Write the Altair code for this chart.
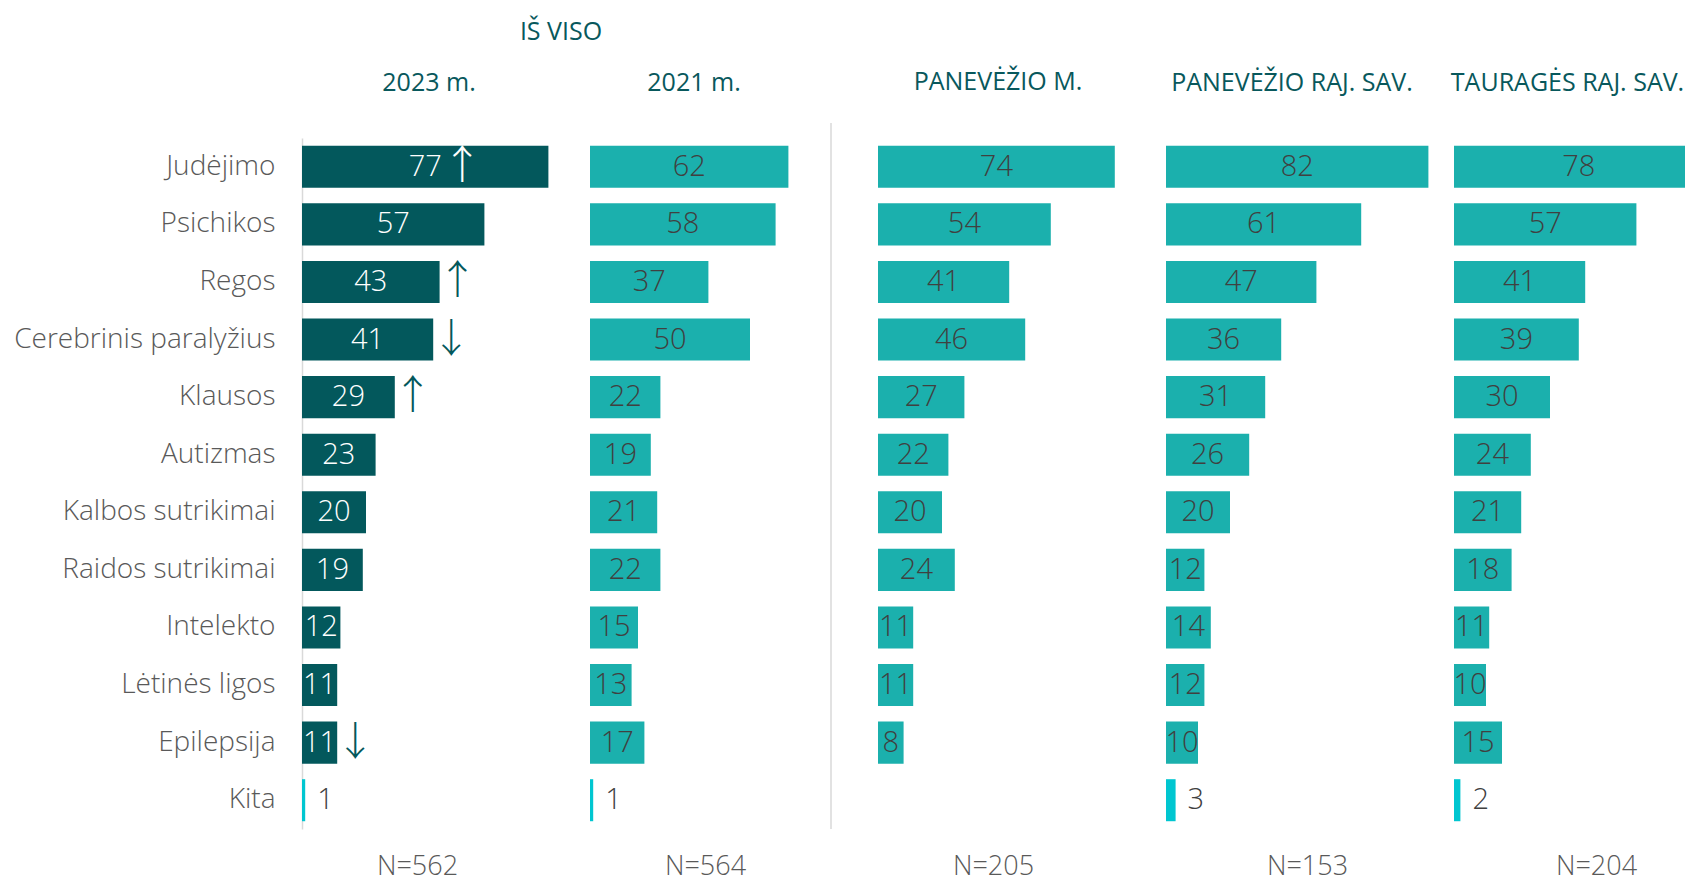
import altair as alt
import pandas as pd

categories = ["Judėjimo", "Psichikos", "Regos", "Cerebrinis paralyžius", "Klausos",
              "Autizmas", "Kalbos sutrikimai", "Raidos sutrikimai", "Intelekto",
              "Lėtinės ligos", "Epilepsija", "Kita"]
v2023 = [77, 57, 43, 41, 29, 23, 20, 19, 12, 11, 11, 1]
v2021 = [62, 58, 37, 50, 22, 19, 21, 22, 15, 13, 17, 1]
panevezio_m = [74, 54, 41, 46, 27, 22, 20, 24, 11, 11, 8, None]
panevezio_raj = [82, 61, 47, 36, 31, 26, 20, 12, 14, 12, 10, 3]
taurages = [78, 57, 41, 39, 30, 24, 21, 18, 11, 10, 15, 2]
arrows_2023 = ["↑", "", "↑", "↓", "↑", "", "", "", "", "", "↓", ""]
panel_titles = ["2023 m.", "2021 m.", "PANEVĖŽIO M.", "PANEVĖŽIO RAJ. SAV.", "TAURAGĖS RAJ. SAV."]
n_values = [562, 564, 205, 153, 204]
group_title = "IŠ VISO"

DARK = "#03585c"
TEAL = "#1bb0ad"
KITA = "#00c6d0"
HEAD = "#08585c"
GRAY = "#404040"
LGRAY = "#595959"
FONT = "Open Sans"

PX_PER_UNIT = 3.2
H = 691
Y_SCALE = alt.Scale(domain=categories, paddingInner=0.27, paddingOuter=0.135)


def make_panel(i, values, bar_color, text_color, width, title_dx, title_offset, n_x, clip=False):
    rows = []
    for j, (c, v) in enumerate(zip(categories, values)):
        if v is None:
            continue
        rows.append({"cat": c, "value": v, "kita": c == "Kita",
                     "col": KITA if c == "Kita" else bar_color,
                     "arrow": arrows_2023[j] if i == 0 else ""})
    df = pd.DataFrame(rows)
    dmax = width / PX_PER_UNIT
    xs = alt.Scale(domain=[0, dmax], nice=False, zero=True)
    base = alt.Chart(df)

    if i == 0:
        yaxis = alt.Axis(title=None, labelFont=FONT, labelFontWeight=300, labelFontSize=28,
                         labelColor=LGRAY, labelPadding=27, ticks=False, domain=True,
                         domainColor="#d9d9d9", domainWidth=1.5, grid=False,
                         minExtent=289, maxExtent=289, labelLimit=400)
    else:
        yaxis = None
    xaxis = alt.Axis(title=f"N={n_values[i]}", labels=False, ticks=False, domain=False,
                     grid=False, titleFont=FONT, titleFontWeight=300, titleFontSize=27,
                     titleColor=LGRAY, titlePadding=24, titleX=n_x, titleAnchor="middle",
                     titleAlign="center")
    Y = alt.Y("cat:N", sort=categories, scale=Y_SCALE, axis=yaxis)

    bars = base.mark_bar(clip=clip).encode(
        y=Y,
        x=alt.X("value:Q", scale=xs, axis=xaxis),
        color=alt.Color("col:N", scale=None),
    )
    labels_in = base.transform_filter("!datum.kita").transform_calculate(
        mid="datum.value / 2").mark_text(
        font=FONT, fontWeight=300, fontSize=29, color=text_color, align="center",
        baseline="middle").encode(
        y=Y,
        x=alt.X("mid:Q", scale=xs, axis=xaxis),
        text="value:Q",
    )
    labels_out = base.transform_filter("datum.kita").mark_text(
        font=FONT, fontWeight=300, fontSize=29, color=GRAY, align="left",
        baseline="middle", dx=12).encode(
        y=Y,
        x=alt.X("value:Q", scale=xs, axis=xaxis),
        text="value:Q",
    )
    layers = [bars, labels_in, labels_out]
    if i == 0:
        arr_out = base.transform_filter("datum.arrow != '' && datum.value < 60").mark_text(
            font="Noto Sans CJK SC", fontWeight=300, fontSize=40, color=DARK, align="center",
            baseline="middle", dx=18).encode(
            y=Y,
            x=alt.X("value:Q", scale=xs, axis=xaxis),
            text="arrow:N",
        )
        arr_in = base.transform_filter("datum.arrow != '' && datum.value >= 60").transform_calculate(
            mid="datum.value / 2").mark_text(
            font="Noto Sans CJK SC", fontWeight=300, fontSize=40, color="white", align="center",
            baseline="middle", dx=37).encode(
            y=Y,
            x=alt.X("mid:Q", scale=xs, axis=xaxis),
            text="arrow:N",
        )
        layers += [arr_out, arr_in]
    if i == 2:
        sep = alt.Chart(pd.DataFrame({"a": [0]})).mark_rule(color="#d9d9d9", strokeWidth=1.5).encode(
            x=alt.value(-47), y=alt.value(-15), y2=alt.value(H))
        layers.append(sep)
    return alt.layer(*layers).properties(
        width=width, height=H,
        title=alt.TitleParams(panel_titles[i], anchor="middle", frame="group", dx=title_dx,
                              offset=title_offset, baseline="bottom", fontSize=25, font=FONT,
                              fontWeight="normal", color=HEAD),
    )


p1 = make_panel(0, v2023, DARK, "white", 240, 7, 17, 115)
p2 = make_panel(1, v2021, TEAL, GRAY, 240, -16, 17, 115)
p3 = make_panel(2, panevezio_m, TEAL, GRAY, 240, 0, 2, 115)
p4 = make_panel(3, panevezio_raj, TEAL, GRAY, 240, 6, 17, 141)
p5 = make_panel(4, taurages, TEAL, GRAY, 231, -2, 17, 142, clip=True)

chart = alt.HConcatChart(
    hconcat=[p1, p2, p3, p4, p5],
    spacing=48,
    bounds="flush",
    title=alt.TitleParams(group_title, anchor="start", align="center", frame="group", dx=259,
                          offset=0, baseline="bottom", fontSize=25, font=FONT,
                          fontWeight="normal", color=HEAD),
    padding={"left": 5, "top": 12, "right": 0, "bottom": 8},
).configure_view(stroke=None).configure_axis(grid=False)

chart.save("out.html", embed_options={"renderer": "svg", "actions": False})
